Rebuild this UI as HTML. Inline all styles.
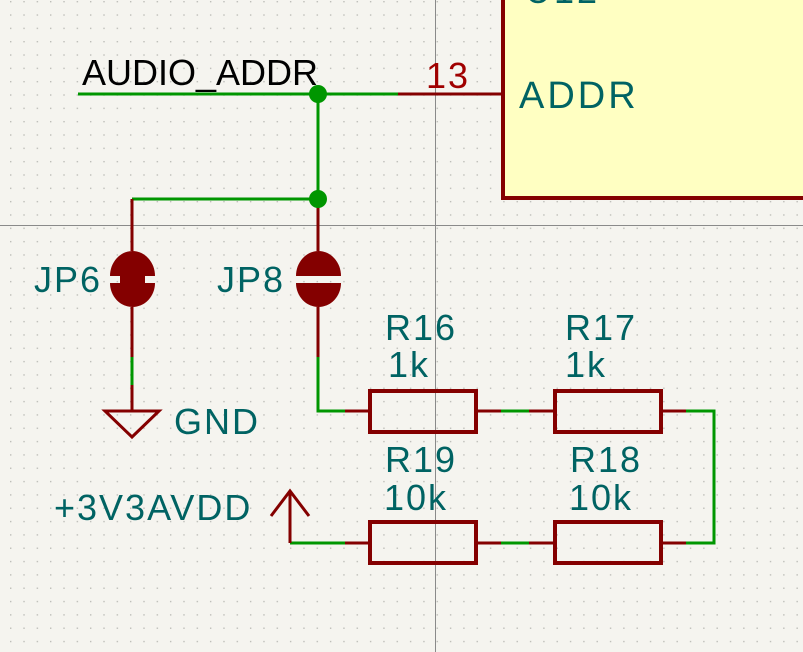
<!DOCTYPE html>
<html><head><meta charset="utf-8"><style>
html,body{margin:0;padding:0;background:#f5f4ef;}
svg{display:block;}
text{font-family:"Liberation Sans","DejaVu Sans",sans-serif;}
</style></head><body>
<svg width="803" height="652" viewBox="0 0 803 652" xmlns="http://www.w3.org/2000/svg">
<defs>
<pattern id="g" x="10" y="1" width="13.33" height="13.33" patternUnits="userSpaceOnUse">
<rect x="0" y="0" width="1.4" height="1.4" fill="#bdbdb8"/>
</pattern>
</defs>
<rect width="803" height="652" fill="#f5f4ef"/>
<rect width="803" height="652" fill="url(#g)"/>
<line x1="435.5" y1="0" x2="435.5" y2="652" stroke="#8a8a8a" stroke-width="1"/>
<line x1="0" y1="225.5" x2="803" y2="225.5" stroke="#8a8a8a" stroke-width="1"/>
<!-- IC box -->
<rect x="503" y="-10" width="310" height="208" fill="#ffffc2" stroke="#840000" stroke-width="4"/>
<text x="525" y="3" font-size="36" fill="#006363" letter-spacing="3">U12</text>
<text x="519" y="108" font-size="38" fill="#006363" letter-spacing="3">ADDR</text>
<text x="426" y="88" font-size="36" fill="#a00000" letter-spacing="2">13</text>
<!-- wires green -->
<g stroke="#009600" stroke-width="3" fill="none">
<polyline points="78,94 398,94"/>
<polyline points="318,94 318,199"/>
<polyline points="132,199 318,199"/>
<polyline points="132,357 132,385"/>
<polyline points="318,357 318,411 345,411"/>
<polyline points="501,411 529,411"/>
<polyline points="686,411 714,411 714,543 686,543"/>
<polyline points="501,543 529,543"/>
<polyline points="290,543 345,543"/>
</g>
<!-- red pins -->
<g stroke="#840000" stroke-width="3" fill="none">
<line x1="398" y1="94" x2="501" y2="94"/>
<line x1="132" y1="199" x2="132" y2="251"/>
<line x1="132" y1="307" x2="132" y2="357"/>
<line x1="132" y1="385" x2="132" y2="410"/>
<line x1="318" y1="205" x2="318" y2="251"/>
<line x1="318" y1="307" x2="318" y2="357"/>
<line x1="345" y1="411" x2="369" y2="411"/>
<line x1="477" y1="411" x2="501" y2="411"/>
<line x1="529" y1="411" x2="554" y2="411"/>
<line x1="662" y1="411" x2="686" y2="411"/>
<line x1="345" y1="543" x2="369" y2="543"/>
<line x1="477" y1="543" x2="501" y2="543"/>
<line x1="529" y1="543" x2="554" y2="543"/>
<line x1="662" y1="543" x2="686" y2="543"/>
<line x1="290" y1="543" x2="290" y2="491"/>
<polyline points="271,516 290,491 309,516" stroke-linejoin="miter"/>
<polygon points="105,411 159,411 132,437"/>
</g>
<!-- resistors -->
<g stroke="#840000" stroke-width="4" fill="none">
<rect x="370" y="391" width="106" height="41"/>
<rect x="555" y="391" width="106" height="41"/>
<rect x="370" y="522" width="106" height="41"/>
<rect x="555" y="522" width="106" height="41"/>
</g>
<!-- junctions -->
<circle cx="318" cy="94" r="9" fill="#009600"/>
<circle cx="318" cy="199" r="9" fill="#009600"/>
<!-- jumpers -->
<g fill="#840000">
<path d="M110,276 A22.5,25 0 0 1 155,276 Z"/>
<path d="M110,283 A22.5,24 0 0 0 155,283 Z"/>
<rect x="120" y="274" width="25" height="11"/>
<path d="M296,276 A22.5,25 0 0 1 341,276 Z"/>
<path d="M296,283 A22.5,24 0 0 0 341,283 Z"/>
</g>
<!-- labels -->
<g fill="#006363" font-size="36" letter-spacing="2">
<text x="34" y="292">JP6</text>
<text x="217" y="292">JP8</text>
<text x="385" y="340">R16</text>
<text x="388" y="377">1k</text>
<text x="565" y="340">R17</text>
<text x="565" y="377">1k</text>
<text x="385" y="472">R19</text>
<text x="384" y="510">10k</text>
<text x="570" y="472">R18</text>
<text x="569" y="510">10k</text>
<text x="174" y="434">GND</text>
<text x="54" y="520">+3V3AVDD</text>
</g>
<text x="82" y="85" font-size="36" fill="#000" letter-spacing="0">AUDIO_ADDR</text>
</svg>
</body></html>
